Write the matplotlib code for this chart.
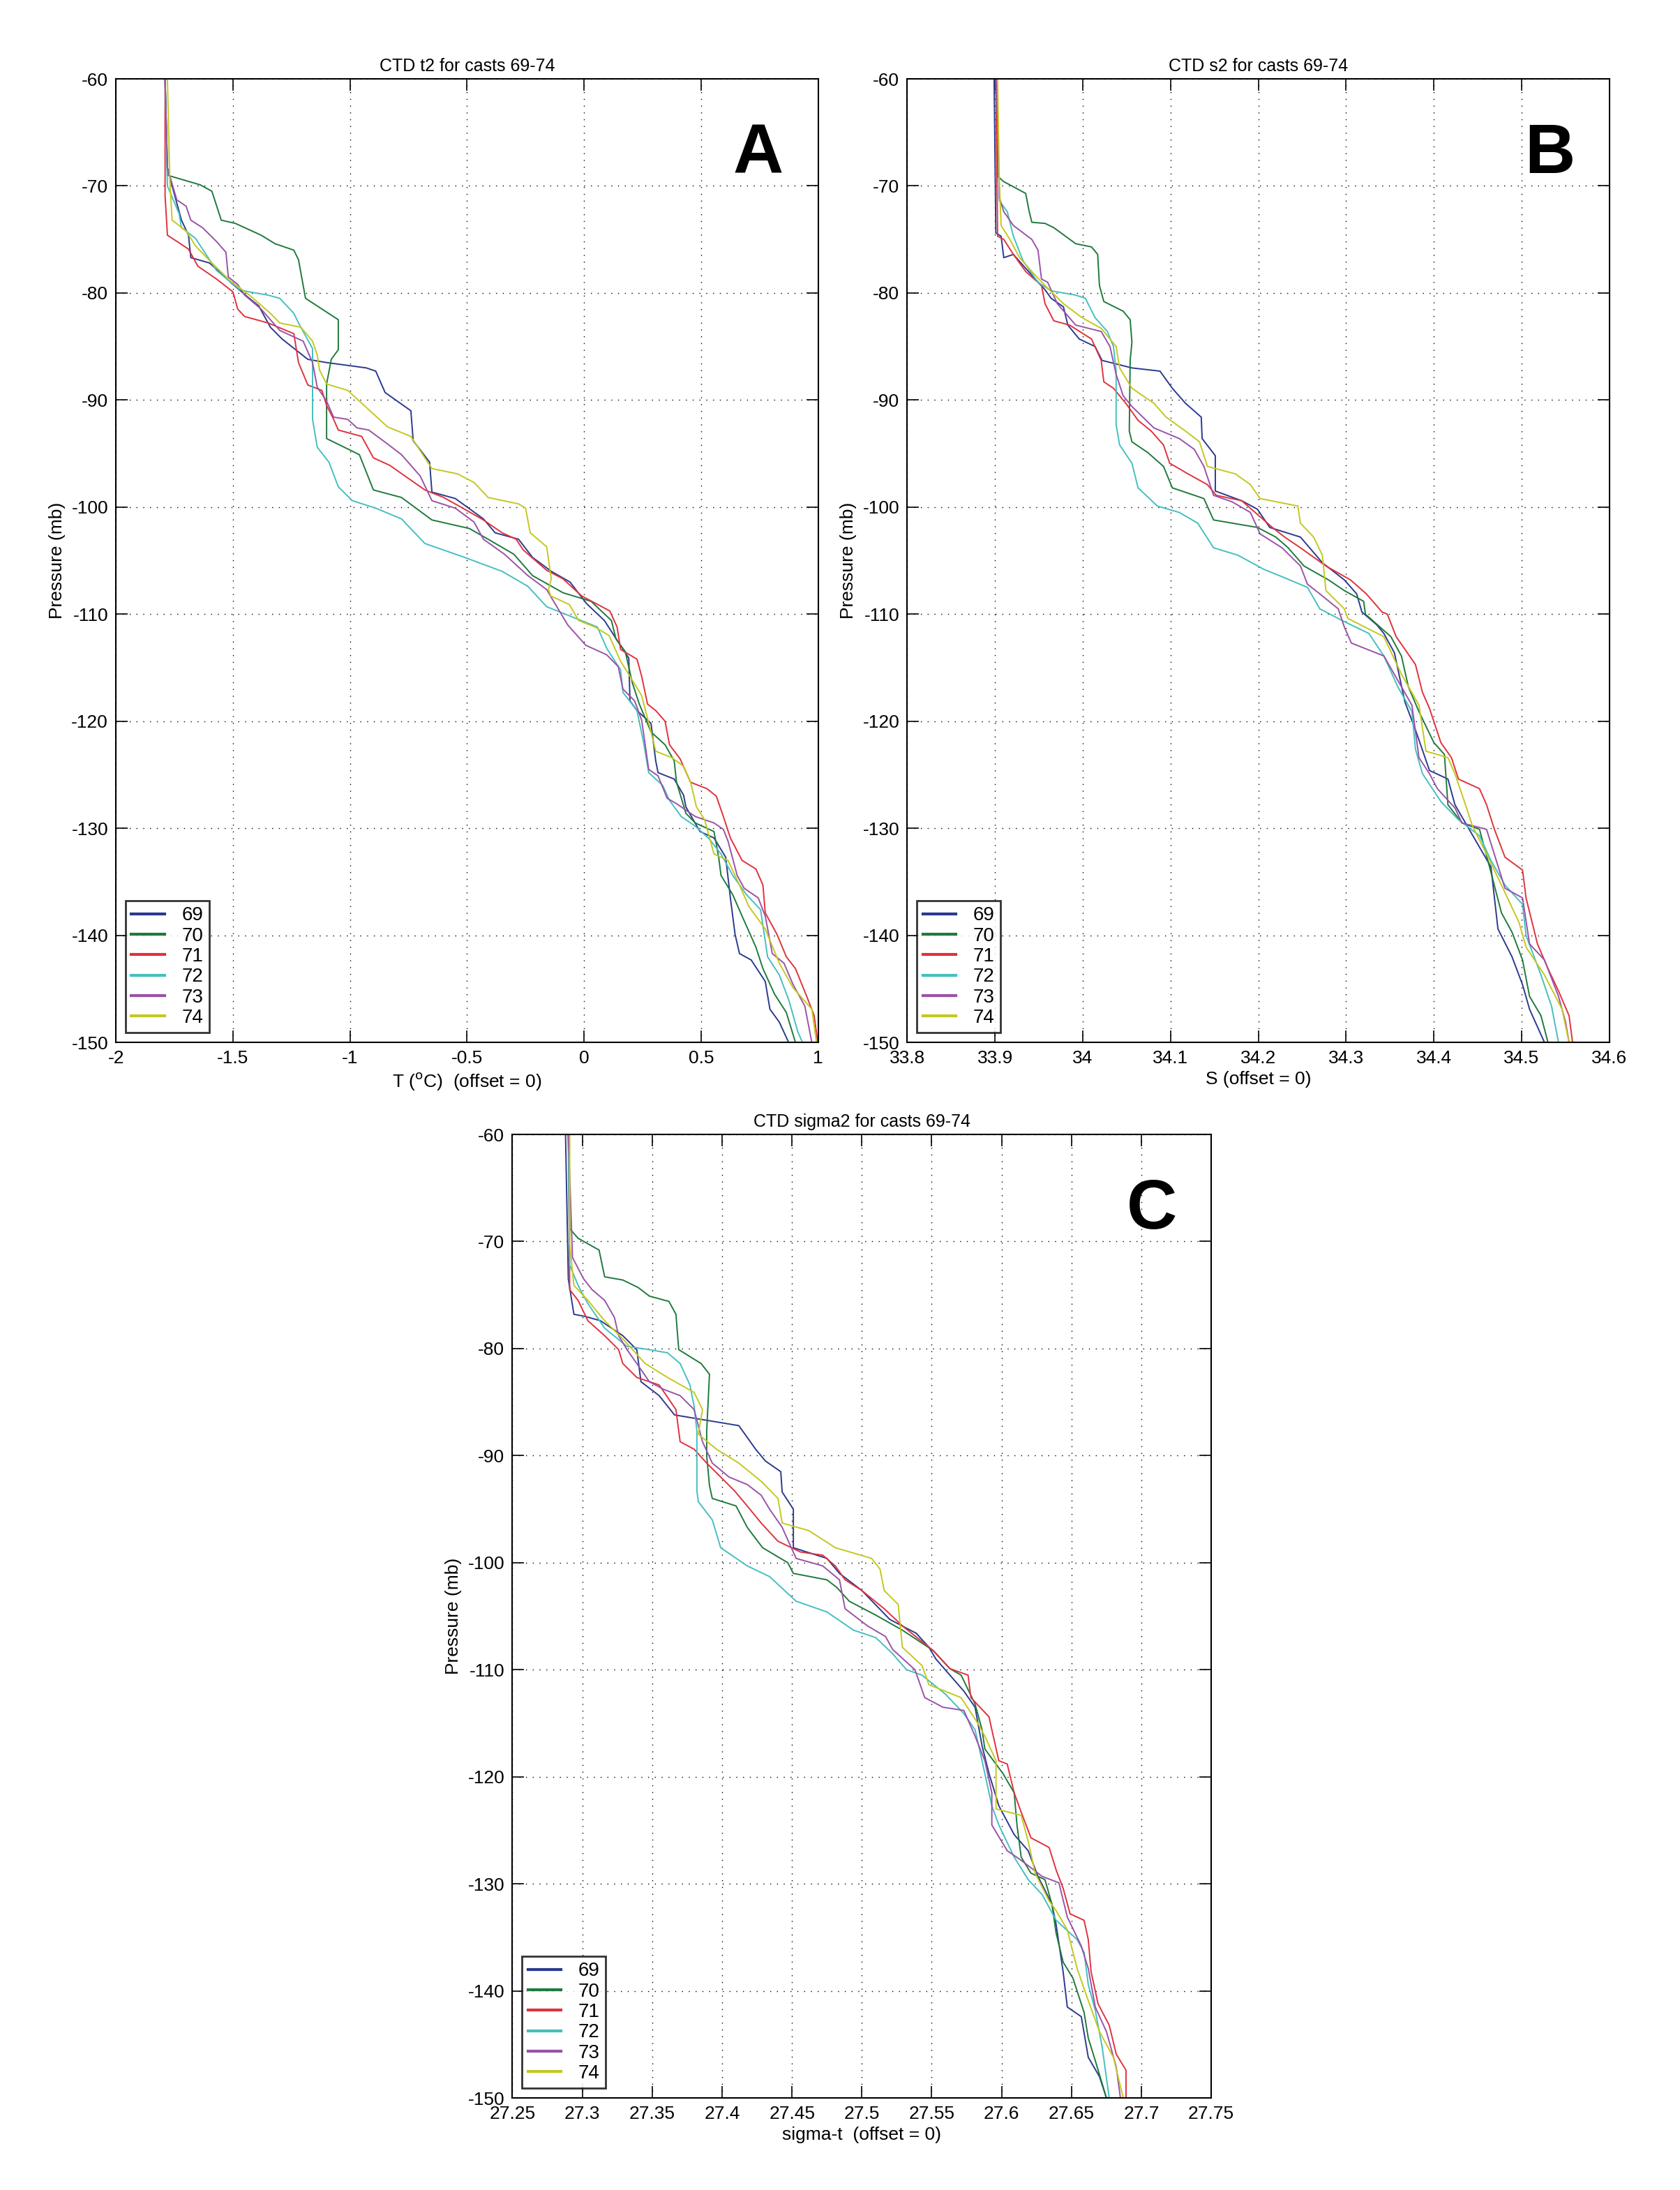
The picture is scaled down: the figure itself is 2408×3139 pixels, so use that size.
import matplotlib
matplotlib.use("Agg")
import matplotlib.pyplot as plt
import numpy as np

plt.rcParams['font.family'] = ['Liberation Sans', 'DejaVu Sans']

casts = ["69", "70", "71", "72", "73", "74"]
colors = ["#2a3a8f", "#1f7a3c", "#e0323c", "#45bfc0", "#9a52a8", "#c4c820"]

# ---- Panel A: temperature (pressure, value) ----
T_69 = [(-60,-1.79),(-68.3,-1.78),(-70,-1.76),(-73.2,-1.72),(-74.6,-1.69),(-76.7,-1.68),(-77.2,-1.6),(-79.2,-1.5),(-80.5,-1.43),(-81.2,-1.39),(-83.2,-1.34),(-84.3,-1.29),(-86.2,-1.18),(-86.5,-1.1),(-87,-0.93),(-87.3,-0.89),(-89.3,-0.85),(-91,-0.74),(-93.8,-0.73),(-95.8,-0.66),(-98.6,-0.65),(-99.2,-0.55),(-101.1,-0.43),(-102.4,-0.38),(-103,-0.28),(-104.7,-0.22),(-106,-0.14),(-107,-0.06),(-109,0.01),(-110.6,0.087),(-112.6,0.146),(-114.1,0.191),(-118.1,0.196),(-119,0.226),(-120.2,0.286),(-123.7,0.306),(-124.8,0.316),(-125.4,0.385),(-126.9,0.425),(-128,0.435),(-130.3,0.495),(-130.9,0.555),(-132.7,0.605),(-136.5,0.625),(-139.9,0.645),(-141.7,0.664),(-142.3,0.714),(-144.3,0.774),(-146.9,0.794),(-148.1,0.834),(-150,0.874)]
T_70 = [(-60,-1.79),(-69,-1.78),(-69.9,-1.64),(-70.5,-1.59),(-73.2,-1.55),(-73.5,-1.49),(-74.6,-1.38),(-75.4,-1.32),(-76,-1.24),(-76.9,-1.22),(-80.5,-1.19),(-81.5,-1.12),(-82.5,-1.05),(-85.3,-1.05),(-86.2,-1.08),(-88.5,-1.1),(-93.6,-1.1),(-95.1,-0.96),(-98.4,-0.9),(-99.1,-0.78),(-101.2,-0.65),(-102,-0.49),(-103,-0.41),(-104.4,-0.3),(-106.4,-0.22),(-108,-0.09),(-108.8,0.03),(-110.6,0.117),(-112.3,0.136),(-113.5,0.176),(-116.4,0.206),(-118.4,0.236),(-121,0.286),(-122.2,0.346),(-123.7,0.385),(-125.7,0.395),(-128.6,0.435),(-129.5,0.475),(-130.3,0.555),(-132.7,0.575),(-134.4,0.585),(-136.2,0.635),(-138.2,0.675),(-141.1,0.734),(-143.1,0.764),(-145.5,0.814),(-147.2,0.864),(-150,0.903)]
T_71 = [(-60,-1.79),(-70.9,-1.79),(-74.6,-1.78),(-75.9,-1.69),(-77.5,-1.65),(-78.7,-1.57),(-79.9,-1.5),(-81.5,-1.48),(-82.2,-1.45),(-82.8,-1.35),(-83.8,-1.24),(-86.5,-1.22),(-88.6,-1.18),(-89.1,-1.12),(-90.5,-1.1),(-91.8,-1.07),(-92.8,-1.05),(-93.4,-0.95),(-95.4,-0.9),(-96.1,-0.83),(-98.4,-0.68),(-99.1,-0.6),(-100.2,-0.51),(-101.2,-0.43),(-102.4,-0.35),(-103,-0.29),(-104,-0.26),(-105.9,-0.16),(-106.7,-0.09),(-108.3,-0.01),(-109.7,0.11),(-111.2,0.141),(-113.3,0.156),(-114.2,0.226),(-115.8,0.246),(-118.4,0.271),(-119,0.306),(-120,0.346),(-122.2,0.365),(-123.5,0.41),(-125.7,0.455),(-126.3,0.525),(-127,0.565),(-128.9,0.595),(-130.9,0.625),(-133,0.675),(-133.8,0.734),(-135.3,0.764),(-137.9,0.774),(-139.9,0.824),(-142,0.864),(-143.1,0.903),(-145.8,0.953),(-147.5,0.983),(-150,0.998)]
T_72 = [(-60,-1.79),(-70,-1.78),(-72.6,-1.73),(-73.9,-1.72),(-74.9,-1.66),(-77.9,-1.57),(-79.7,-1.47),(-79.9,-1.43),(-80.2,-1.35),(-80.5,-1.3),(-81.9,-1.24),(-82.8,-1.22),(-85.2,-1.16),(-91.8,-1.16),(-94.4,-1.14),(-95.8,-1.09),(-98.1,-1.05),(-99.4,-0.99),(-100.1,-0.89),(-101.1,-0.78),(-103.4,-0.68),(-104.7,-0.51),(-106,-0.35),(-107.4,-0.24),(-109.3,-0.16),(-111.2,0.057),(-113.2,0.097),(-115.2,0.156),(-117.3,0.166),(-119,0.226),(-122.2,0.256),(-124.8,0.276),(-126,0.336),(-127.4,0.365),(-128.9,0.415),(-129.8,0.475),(-131,0.535),(-132.4,0.585),(-134.4,0.635),(-136.2,0.694),(-137.6,0.754),(-142,0.784),(-143.7,0.834),(-146,0.874),(-149,0.913),(-150,0.933)]
T_73 = [(-60,-1.79),(-68.3,-1.78),(-71.3,-1.74),(-71.9,-1.7),(-73.2,-1.68),(-73.9,-1.63),(-75.2,-1.57),(-76.2,-1.53),(-78.5,-1.52),(-79.2,-1.48),(-80.2,-1.45),(-81.5,-1.38),(-82.5,-1.34),(-83.5,-1.3),(-84.5,-1.2),(-86.5,-1.16),(-88.8,-1.14),(-90.1,-1.1),(-91.6,-1.07),(-91.8,-1.01),(-92.6,-0.97),(-92.8,-0.92),(-94.1,-0.84),(-95.1,-0.78),(-97.1,-0.7),(-99.4,-0.65),(-100.1,-0.55),(-101.4,-0.47),(-103,-0.43),(-104.4,-0.34),(-106.4,-0.24),(-107.7,-0.16),(-111,-0.07),(-112.9,0.007),(-113.8,0.097),(-114.9,0.146),(-117,0.166),(-118.1,0.216),(-119.9,0.246),(-124.5,0.276),(-125.1,0.316),(-127.2,0.355),(-127.7,0.395),(-128.9,0.475),(-129.5,0.555),(-130.1,0.595),(-131.2,0.615),(-134.4,0.654),(-135.6,0.684),(-136.5,0.744),(-138.2,0.774),(-141.7,0.804),(-142.6,0.854),(-144.6,0.893),(-146.6,0.943),(-150,0.973)]
T_74 = [(-60,-1.78),(-69.3,-1.77),(-73.2,-1.76),(-74.2,-1.7),(-75.6,-1.66),(-77.2,-1.59),(-78.9,-1.51),(-80.2,-1.43),(-81.9,-1.34),(-82.8,-1.3),(-83.2,-1.21),(-84.5,-1.16),(-85.8,-1.14),(-87.2,-1.13),(-88.5,-1.1),(-89.1,-1.01),(-91.1,-0.91),(-92.5,-0.84),(-93.4,-0.74),(-96.4,-0.65),(-96.9,-0.54),(-97.7,-0.47),(-99.1,-0.41),(-99.7,-0.28),(-100.1,-0.25),(-102.4,-0.23),(-103.7,-0.16),(-106.7,-0.14),(-107.7,-0.152),(-108.3,-0.142),(-109.1,-0.063),(-110.6,-0.023),(-111.2,0.047),(-112,0.107),(-114.4,0.156),(-115.8,0.196),(-117.6,0.246),(-121,0.286),(-122.8,0.306),(-123.4,0.375),(-124.2,0.425),(-125.7,0.455),(-128,0.48),(-129.2,0.515),(-132.4,0.555),(-133,0.615),(-135.3,0.664),(-137.3,0.704),(-139.4,0.774),(-142.6,0.834),(-144.9,0.893),(-146.9,0.973),(-150,0.993)]

# ---- Panel B: salinity ----
S_69 = [(-60,33.899),(-74.4,33.901),(-74.7,33.907),(-76.7,33.91),(-76.4,33.921),(-77.7,33.935),(-79.7,33.957),(-80.5,33.964),(-81.3,33.978),(-83,33.983),(-84.3,33.996),(-85,34.014),(-86.3,34.022),(-87,34.056),(-87.3,34.088),(-88.9,34.102),(-90.3,34.117),(-91.6,34.135),(-93.6,34.136),(-95.2,34.151),(-98.5,34.151),(-99.4,34.181),(-100.2,34.199),(-101.9,34.213),(-102.8,34.248),(-105.2,34.273),(-106.8,34.298),(-108.1,34.312),(-109.8,34.318),(-111,34.335),(-111.8,34.343),(-113.6,34.355),(-118.2,34.367),(-120.8,34.379),(-124.6,34.395),(-125.4,34.416),(-127.8,34.424),(-131.2,34.448),(-133.6,34.465),(-139.4,34.473),(-142,34.489),(-144.6,34.501),(-146.9,34.509),(-150,34.526)]
S_70 = [(-60,33.901),(-69.1,33.903),(-69.6,33.91),(-70.7,33.935),(-72.4,33.939),(-73.4,33.942),(-73.5,33.957),(-73.9,33.967),(-75.4,33.992),(-75.7,34.01),(-76.4,34.017),(-79.3,34.019),(-80.8,34.024),(-81.7,34.046),(-82.5,34.054),(-84.6,34.056),(-86.3,34.054),(-92.9,34.053),(-93.9,34.056),(-94.9,34.074),(-96.2,34.092),(-98.2,34.102),(-99.2,34.138),(-101.2,34.149),(-101.9,34.199),(-102.8,34.22),(-103.8,34.234),(-105.5,34.252),(-106.8,34.28),(-107.8,34.298),(-108.8,34.32),(-110,34.322),(-112.1,34.351),(-113.9,34.363),(-116.8,34.371),(-119.1,34.383),(-122,34.4),(-123.1,34.412),(-127.8,34.416),(-129.5,34.432),(-130.1,34.452),(-134.1,34.465),(-137.9,34.477),(-139.7,34.489),(-142.3,34.501),(-145.7,34.509),(-147.5,34.522),(-150,34.53)]
S_71 = [(-60,33.901),(-74.7,33.903),(-75,33.91),(-76.4,33.921),(-78,33.935),(-79.3,33.953),(-81,33.957),(-82.6,33.967),(-83,33.985),(-84.3,34.01),(-86.3,34.021),(-88.3,34.024),(-88.9,34.035),(-90.3,34.049),(-91.9,34.063),(-92.9,34.078),(-94.2,34.092),(-95.9,34.099),(-96.9,34.12),(-97.9,34.142),(-98.9,34.152),(-99.4,34.181),(-100.9,34.202),(-101.9,34.216),(-102.8,34.23),(-103.8,34.248),(-105.5,34.277),(-106.8,34.305),(-108.1,34.323),(-109.8,34.341),(-110,34.347),(-112.1,34.357),(-114.7,34.379),(-117.3,34.387),(-118.8,34.395),(-122,34.408),(-123.4,34.42),(-125.4,34.428),(-126.3,34.452),(-127.8,34.46),(-130.1,34.469),(-132.7,34.481),(-133.9,34.501),(-136.5,34.505),(-140.8,34.518),(-143.1,34.53),(-145.2,34.542),(-147.5,34.554),(-150,34.558)]
S_72 = [(-60,33.902),(-71.4,33.905),(-72.4,33.914),(-74.7,33.921),(-77,33.932),(-79,33.949),(-79.8,33.964),(-80.2,33.992),(-80.5,34.003),(-82.3,34.014),(-83.6,34.028),(-85,34.035),(-87.3,34.038),(-92.3,34.038),(-94.2,34.042),(-95.9,34.056),(-98.2,34.063),(-99.9,34.085),(-100.5,34.11),(-101.5,34.131),(-103.8,34.149),(-104.5,34.177),(-105.8,34.206),(-106.5,34.227),(-107.5,34.256),(-109.5,34.27),(-110.7,34.298),(-111.8,34.326),(-113.9,34.343),(-116.8,34.359),(-119.1,34.375),(-122.6,34.379),(-124.9,34.387),(-127.5,34.408),(-129.2,34.428),(-130.7,34.452),(-133,34.465),(-135.3,34.481),(-137.1,34.501),(-140,34.505),(-143.7,34.522),(-146.6,34.534),(-150,34.542)]
S_73 = [(-60,33.902),(-71.1,33.905),(-72.4,33.91),(-73.7,33.921),(-75,33.942),(-76,33.949),(-78.7,33.953),(-79,33.96),(-81,33.971),(-83,33.992),(-83.6,34.021),(-85,34.031),(-87.6,34.038),(-89.6,34.046),(-90.6,34.056),(-92.6,34.081),(-93.6,34.11),(-94.6,34.127),(-96.2,34.138),(-98.9,34.149),(-99.5,34.17),(-100.5,34.191),(-102.5,34.202),(-103.8,34.227),(-105.5,34.248),(-107.2,34.256),(-108.1,34.27),(-109.5,34.291),(-111.2,34.298),(-112.7,34.306),(-113.9,34.343),(-116.2,34.359),(-118.5,34.375),(-123.4,34.383),(-124.9,34.395),(-126.3,34.404),(-128.1,34.424),(-129.5,34.432),(-130.1,34.46),(-135.6,34.481),(-136.5,34.501),(-140.8,34.509),(-142.3,34.526),(-145.7,34.542),(-148.1,34.55),(-150,34.554)]
S_74 = [(-60,33.903),(-69.7,33.905),(-73.7,33.907),(-75,33.917),(-76.7,33.928),(-78,33.942),(-79.3,33.957),(-81,33.978),(-82.3,33.999),(-83.3,34.021),(-85,34.038),(-87,34.042),(-88.9,34.056),(-90.3,34.081),(-91.6,34.095),(-92.9,34.117),(-93.9,34.133),(-96.2,34.142),(-96.9,34.174),(-97.9,34.191),(-99.2,34.202),(-99.9,34.245),(-101.5,34.248),(-102.8,34.263),(-104.5,34.273),(-107.8,34.277),(-109.5,34.298),(-110.4,34.302),(-112.1,34.343),(-115.6,34.363),(-118.5,34.383),(-122.8,34.391),(-123.4,34.416),(-124.9,34.424),(-127.8,34.436),(-129.8,34.444),(-132.4,34.46),(-135.3,34.477),(-138.8,34.497),(-141.1,34.505),(-143.7,34.526),(-146.9,34.546),(-150,34.554)]

# ---- Panel C: sigma-t ----
G_69 = [(-60,27.288),(-73.5,27.29),(-76.8,27.294),(-77,27.302),(-77.4,27.313),(-78.8,27.329),(-80.1,27.339),(-83.1,27.342),(-84.4,27.355),(-86.2,27.366),(-86.7,27.389),(-87.2,27.412),(-89.4,27.424),(-90.5,27.431),(-91.5,27.442),(-93.4,27.443),(-95,27.451),(-98.6,27.451),(-99.6,27.475),(-101,27.484),(-102.6,27.5),(-105.3,27.52),(-106.6,27.539),(-107.9,27.548),(-109,27.553),(-110.5,27.563),(-112,27.573),(-113.5,27.581),(-117.1,27.586),(-119.7,27.591),(-122.7,27.598),(-125.4,27.609),(-126.9,27.619),(-129.3,27.626),(-131.9,27.636),(-133.8,27.639),(-138.2,27.644),(-141.5,27.647),(-142.4,27.657),(-146.2,27.662),(-148,27.67),(-150,27.675)]
G_70 = [(-60,27.29),(-68.8,27.291),(-69.7,27.297),(-70.8,27.312),(-73.3,27.316),(-73.6,27.329),(-74.3,27.34),(-75.1,27.348),(-75.6,27.362),(-76.8,27.367),(-80.1,27.369),(-81.4,27.385),(-82.4,27.391),(-87.7,27.389),(-90,27.389),(-92.8,27.391),(-94,27.393),(-94.7,27.41),(-96.7,27.418),(-98.6,27.429),(-100,27.447),(-101,27.451),(-101.6,27.475),(-102.3,27.482),(-103.6,27.491),(-104.9,27.51),(-106.3,27.529),(-108.2,27.551),(-109.9,27.563),(-110.5,27.571),(-113.2,27.581),(-115.6,27.586),(-117.4,27.588),(-119.7,27.601),(-121.5,27.609),(-124.5,27.611),(-127.5,27.614),(-129,27.621),(-129.6,27.631),(-131.9,27.636),(-134.6,27.639),(-137.3,27.644),(-138.8,27.651),(-142,27.659),(-144.4,27.662),(-146.5,27.667),(-150,27.675)]
G_71 = [(-60,27.29),(-74.5,27.291),(-75.5,27.297),(-77.4,27.304),(-78.8,27.316),(-80.1,27.326),(-81.4,27.329),(-82.7,27.339),(-83.4,27.355),(-85.7,27.367),(-88.7,27.37),(-89.4,27.38),(-90.7,27.389),(-92,27.399),(-93.3,27.409),(-94.7,27.418),(-96.3,27.428),(-98,27.44),(-99,27.456),(-99.3,27.472),(-100.3,27.481),(-101.6,27.488),(-102.6,27.5),(-104.3,27.516),(-105.9,27.529),(-108.2,27.551),(-109.9,27.563),(-110.5,27.576),(-112.6,27.578),(-114.4,27.591),(-115.6,27.593),(-118.5,27.598),(-118.8,27.604),(-121.5,27.609),(-123.3,27.614),(-125.7,27.621),(-126.6,27.634),(-128.7,27.639),(-130.4,27.644),(-132.8,27.649),(-133.4,27.659),(-135.2,27.662),(-138.2,27.664),(-141.2,27.669),(-143.2,27.677),(-145.9,27.682),(-147.4,27.689),(-150,27.689)]
G_72 = [(-60,27.29),(-72.2,27.291),(-74.1,27.297),(-75.8,27.304),(-78.1,27.316),(-79.8,27.332),(-80.1,27.348),(-80.4,27.361),(-81.4,27.37),(-83.4,27.377),(-85.4,27.38),(-87.7,27.382),(-93.3,27.382),(-94.3,27.383),(-96,27.393),(-98.6,27.399),(-100.3,27.418),(-101.3,27.434),(-103.6,27.453),(-104.6,27.475),(-106.3,27.494),(-107,27.51),(-108.5,27.522),(-110,27.532),(-110.5,27.543),(-112.3,27.56),(-114.1,27.573),(-115.6,27.581),(-118.5,27.586),(-122.7,27.593),(-124.5,27.598),(-127.5,27.609),(-129.6,27.619),(-131,27.629),(-133.4,27.639),(-135.2,27.654),(-136.4,27.659),(-139.4,27.662),(-141.8,27.667),(-145.3,27.672),(-150,27.677)]
G_73 = [(-60,27.29),(-71.5,27.293),(-73.5,27.301),(-74.5,27.307),(-75.5,27.316),(-77.1,27.323),(-78.8,27.326),(-80.1,27.332),(-81.4,27.339),(-83.1,27.348),(-83.8,27.358),(-84.4,27.37),(-85.7,27.38),(-88.7,27.386),(-90.7,27.393),(-92,27.405),(-92.7,27.418),(-93.7,27.428),(-95,27.434),(-96.7,27.443),(-99.6,27.453),(-100.3,27.472),(-101.6,27.484),(-104.3,27.488),(-105.9,27.504),(-106.9,27.517),(-108.1,27.522),(-110,27.538),(-112.6,27.545),(-113.5,27.558),(-113.8,27.573),(-116.2,27.581),(-118.5,27.588),(-121.5,27.593),(-124.5,27.593),(-126.9,27.604),(-127.8,27.614),(-129.3,27.629),(-129.9,27.641),(-133.1,27.647),(-135.8,27.657),(-137.9,27.662),(-141.5,27.667),(-143.8,27.675),(-147.1,27.682),(-150,27.685)]
G_74 = [(-60,27.291),(-70.2,27.291),(-74.1,27.294),(-75.5,27.304),(-77.4,27.316),(-79.1,27.329),(-81.4,27.345),(-82.7,27.361),(-84.1,27.38),(-85.7,27.386),(-88,27.383),(-89.4,27.396),(-90.7,27.412),(-92.4,27.428),(-94,27.44),(-96.3,27.443),(-97,27.462),(-98.6,27.481),(-99.6,27.507),(-100.6,27.513),(-102.6,27.516),(-103.9,27.526),(-107.9,27.529),(-109.6,27.543),(-111.4,27.548),(-112.6,27.571),(-115,27.583),(-116.2,27.588),(-118.5,27.596),(-123,27.596),(-123.6,27.614),(-126,27.619),(-129,27.624),(-131.6,27.634),(-132.5,27.639),(-134.3,27.647),(-137.9,27.654),(-140.9,27.662),(-143.8,27.67),(-146.2,27.68),(-150,27.687)]

T_data = [T_69, T_70, T_71, T_72, T_73, T_74]
S_data = [S_69, S_70, S_71, S_72, S_73, S_74]
G_data = [G_69, G_70, G_71, G_72, G_73, G_74]

yticks = list(range(-150, -59, 10))
T_ticks = [-2, -1.5, -1, -0.5, 0, 0.5, 1]
T_ticklabels = ["-2", "-1.5", "-1", "-0.5", "0", "0.5", "1"]
S_ticks = [33.8, 33.9, 34.0, 34.1, 34.2, 34.3, 34.4, 34.5, 34.6]
S_ticklabels = ["33.8", "33.9", "34", "34.1", "34.2", "34.3", "34.4", "34.5", "34.6"]
G_ticks = [27.25, 27.3, 27.35, 27.4, 27.45, 27.5, 27.55, 27.6, 27.65, 27.7, 27.75]
G_ticklabels = ["27.25", "27.3", "27.35", "27.4", "27.45", "27.5", "27.55", "27.6", "27.65", "27.7", "27.75"]

fig = plt.figure(figsize=(24.08, 31.39), dpi=100)

panels = [
    ([0.069, 0.524, 0.418, 0.440], T_data, (-2, 1), T_ticks, T_ticklabels,
     "CTD t2 for casts 69-74", "T ($^{\\rm o}$C)  (offset = 0)", "A"),
    ([0.540, 0.524, 0.418, 0.440], S_data, (33.8, 34.6), S_ticks, S_ticklabels,
     "CTD s2 for casts 69-74", "S (offset = 0)", "B"),
    ([0.305, 0.042, 0.416, 0.440], G_data, (27.25, 27.75), G_ticks, G_ticklabels,
     "CTD sigma2 for casts 69-74", "sigma-t  (offset = 0)", "C"),
]

for rect, data, xlim, xt, xtl, title, xlabel, letter in panels:
    ax = fig.add_axes(rect)
    for name, col, prof in zip(casts, colors, data):
        arr = np.array(prof)
        ax.plot(arr[:, 1], arr[:, 0], color=col, lw=1.4, label=name)
    ax.set_xlim(*xlim)
    ax.set_ylim(-150, -60)
    ax.set_xticks(xt)
    ax.set_xticklabels(xtl)
    ax.set_yticks(yticks)
    ax.set_yticklabels([str(v) for v in yticks])
    ax.tick_params(direction='in', top=True, right=True, length=12, width=1.2,
                   labelsize=19, pad=8)
    ax.grid(True, color='black', linestyle=(0, (1, 6)), linewidth=1.0)
    for s in ax.spines.values():
        s.set_linewidth(1.5)
    ax.set_title(title, fontsize=18, pad=8)
    ax.set_xlabel(xlabel, fontsize=19, labelpad=4)
    ax.set_ylabel("Pressure (mb)", fontsize=19, labelpad=6)
    ax.text(0.915, 0.955, letter, transform=ax.transAxes, fontsize=72,
            fontweight='bold', ha='center', va='top')
    leg = ax.legend(loc='lower left', fontsize=20, frameon=True, fancybox=False,
                    handlelength=1.7, handletextpad=0.9, borderpad=0.3,
                    labelspacing=0.12, borderaxespad=0.5)
    leg.get_frame().set_edgecolor('black')
    leg.get_frame().set_linewidth(2.0)
    for h in leg.get_lines():
        h.set_linewidth(3.0)

fig.savefig("out.png", dpi=100, facecolor='white')
